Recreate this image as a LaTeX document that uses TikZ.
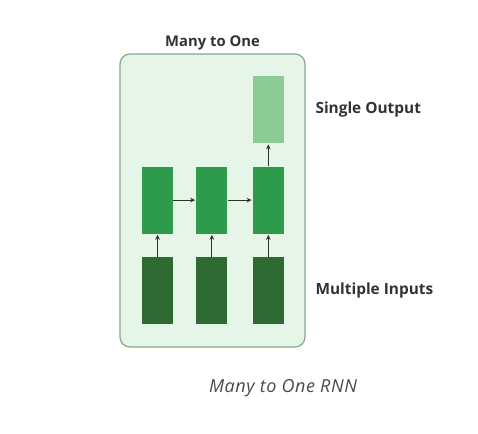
\documentclass[tikz,border=0pt]{standalone}
\usepackage{fontspec}
\setmainfont{Open Sans}
\newfontfamily\capfont[LetterSpace=3]{Open Sans}
\usepackage{tikz}
\usetikzlibrary{arrows.meta, positioning}
\definecolor{panelfill}{HTML}{E5F6E8}
\definecolor{paneldraw}{HTML}{88A88D}
\definecolor{hidfill}{HTML}{2E9A4B}
\definecolor{infill}{HTML}{2D6B33}
\definecolor{outfill}{HTML}{8DCB95}
\definecolor{arrowcol}{HTML}{2F2F2F}
\definecolor{capcol}{HTML}{454B53}
\tikzset{
  panel/.style={draw=paneldraw, fill=panelfill, line width=1.2pt,
                rounded corners=10pt, minimum width=185pt, minimum height=293pt},
  cell/.style={minimum width=31pt, minimum height=67pt, inner sep=0pt},
  incell/.style={cell, fill=infill},
  hidcell/.style={cell, fill=hidfill},
  outcell/.style={cell, fill=outfill},
  arrow/.style={-{Stealth[length=5pt,width=4.6pt]}, line width=1pt,
                draw=arrowcol, shorten >=1pt},
  lbl/.style={font=\fontsize{15.4}{18}\selectfont\bfseries, text=black!80, anchor=west}
}

\begin{document}
\begin{tikzpicture}[x=1pt, y=-1pt, node distance=23pt and 23pt]
  \useasboundingbox (0,0) rectangle (478,433);

  % Panel and title
  \node[panel] (panel) at (212.5,200.5) {};
  \node[above=0pt of panel, font=\fontsize{14.8}{18}\selectfont\bfseries, text=black!80]
    (title) {Many to One};

  % Inputs
  \node[incell] (in1) at (157.5,290.5) {};
  \node[incell, right=23pt of in1] (in2) {};
  \node[incell, right=25pt of in2] (in3) {};

  % Hidden states
  \node[hidcell, above=of in1] (h1) {};
  \node[hidcell, above=of in2] (h2) {};
  \node[hidcell, above=of in3] (h3) {};

  % Output
  \node[outcell, above=of h3] (out) {};

  % Labels
  \node[lbl, right=28pt of out] (outlbl) {Single Output};
  \node[lbl, right=28pt of in3] (inlbl) {Multiple Inputs};
  \node[font=\capfont\fontsize{18}{21}\selectfont\itshape, text=capcol]
    (caption) at (283,388) {Many to One RNN};

  % Arrows
  \draw[arrow] (in1) -- (h1);
  \draw[arrow] (in2) -- (h2);
  \draw[arrow] (in3) -- (h3);
  \draw[arrow] (h1) -- (h2);
  \draw[arrow] (h2) -- (h3);
  \draw[arrow] (h3) -- (out);
\end{tikzpicture}
\end{document}
